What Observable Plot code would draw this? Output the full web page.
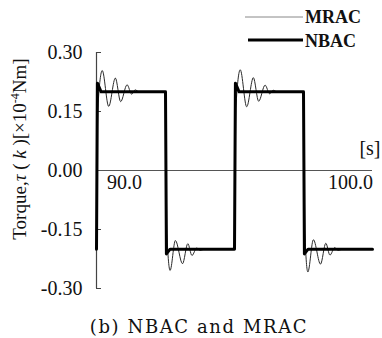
<!DOCTYPE html>
<html><head><meta charset="utf-8">
<script src="https://cdn.jsdelivr.net/npm/d3@7"></script>
<script src="https://cdn.jsdelivr.net/npm/@observablehq/plot@0.6"></script>
<style>
body{margin:0;background:#fff}
#chart{position:relative;width:382px;height:338px}
</style></head><body><div id="chart"></div>
<script>
const yTicks = [-0.30, -0.15, 0, 0.15, 0.30];
const yTickLabels = ["-0.30", "-0.15", "0.00", "0.15", "0.30"];
const xTicks = [90, 100];
const xTickLabels = ["90.0", "100.0"];
const xUnit = "[s]";
const series = ["MRAC", "NBAC"];
const caption = "(b) NBAC and MRAC";

// NBAC (thick line): time [s], torque
const nbacT = [89, 89.04, 89.2, 92, 92.04, 92.2, 95, 95.04, 95.2, 98, 98.04, 98.2, 101];
const nbacV = [-0.2, 0.222, 0.2, 0.2, -0.212, -0.2, -0.2, 0.222, 0.2, 0.2, -0.212, -0.2, -0.2];

// MRAC (thin line): time [s], torque
const mracT = [
  89, 89.06, 89.25, 89.53, 89.82, 90.05, 90.33, 90.53, 90.68, 90.85,
  92, 92.06, 92.2, 92.43, 92.74, 92.97, 93.15, 93.36, 93.5, 93.7,
  95, 95.06, 95.25, 95.53, 95.82, 96.05, 96.33, 96.53, 96.68, 96.85,
  98, 98.06, 98.19, 98.43, 98.74, 98.97, 99.15, 99.36, 99.5, 99.7, 101
];
const mracV = [
  -0.2, 0.16, 0.254, 0.163, 0.235, 0.175, 0.218, 0.194, 0.205, 0.2,
  0.2, -0.16, -0.254, -0.178, -0.237, -0.186, -0.216, -0.197, -0.203, -0.2,
  -0.2, 0.16, 0.256, 0.162, 0.236, 0.176, 0.217, 0.195, 0.204, 0.2,
  0.2, -0.16, -0.258, -0.176, -0.238, -0.185, -0.215, -0.196, -0.203, -0.2, -0.2
];

const nbac = nbacT.map((t, i) => ({t, v: nbacV[i]}));
const mrac = mracT.map((t, i) => ({t, v: mracV[i]}));

const SERIF = "'Liberation Serif', 'Times New Roman', Times, serif";

const plot = Plot.plot({
  width: 382,
  height: 338,
  marginLeft: 96,
  marginRight: 10,
  marginTop: 52,
  marginBottom: 50,
  style: {fontFamily: SERIF, fontSize: "20px", background: "#fff", color: "#111"},
  x: {domain: [89, 101], axis: null},
  y: {domain: [-0.3, 0.3], axis: null},
  marks: [
    Plot.ruleY([0], {stroke: "#555", strokeWidth: 1}),
    Plot.ruleX([89], {y1: -0.3, y2: 0.3, stroke: "#444", strokeWidth: 1.2}),
    Plot.axisY({anchor: "left", ticks: yTicks.filter(d => d !== 0), tickSize: 5, dx: 5, tickFormat: () => "", stroke: "#444", label: null}),
    Plot.axisY({anchor: "left", ticks: yTicks, tickSize: 0, tickPadding: 14,
      tickFormat: d => yTickLabels[yTicks.indexOf(d)], label: null, fontSize: 20, fill: "#111"}),
    Plot.line(mrac, {x: "t", y: "v", curve: "monotone-x", stroke: "#2a2a2a", strokeWidth: 1}),
    Plot.line(nbac, {x: "t", y: "v", stroke: "#000", strokeWidth: 3, strokeLinejoin: "round"}),
    Plot.text([xTicks[0]], {x: d => d, y: 0, text: () => xTickLabels[0], lineAnchor: "bottom", dy: 18, dx: 5, fontSize: 20, fill: "#111"}),
    Plot.text([xTicks[1]], {x: d => d, y: 0, text: () => xTickLabels[1], lineAnchor: "bottom", dy: 18, dx: 1, fontSize: 20, fill: "#111"}),
    Plot.text([xUnit], {x: 101, y: 0, text: d => d, textAnchor: "end", lineAnchor: "bottom", dy: -16, dx: 8, fontSize: 20, fill: "#111"})
  ]
});

const svg = d3.select(plot);
// y-axis title
const yl = svg.append("text")
  .attr("transform", "translate(26,149) rotate(-90)")
  .attr("text-anchor", "middle")
  .attr("font-family", SERIF).attr("font-size", 19).attr("fill", "#111");
yl.append("tspan").text("Torque,");
yl.append("tspan").attr("font-style", "italic").text("τ");
yl.append("tspan").text(" ( ");
yl.append("tspan").attr("font-style", "italic").text("k");
yl.append("tspan").text(" )[×10");
yl.append("tspan").attr("dy", -7).attr("font-size", 12).text("-4");
yl.append("tspan").attr("dy", 7).text("Nm]");

// legend
const lg = svg.append("g").attr("font-family", SERIF).attr("font-size", 18).attr("font-weight", "bold").attr("text-anchor", "start");
lg.append("line").attr("x1", 245).attr("x2", 303).attr("y1", 17).attr("y2", 17).attr("stroke", "#888").attr("stroke-width", 1);
lg.append("text").attr("x", 305).attr("y", 23).attr("fill", "#111").text(series[0]);
lg.append("line").attr("x1", 248).attr("x2", 303).attr("y1", 40).attr("y2", 40).attr("stroke", "#000").attr("stroke-width", 3);
lg.append("text").attr("x", 305).attr("y", 46.5).attr("fill", "#111").text(series[1]);

// caption
svg.append("text").attr("x", 199).attr("y", 333).attr("text-anchor", "middle")
  .attr("font-family", "'DejaVu Serif', serif").attr("font-size", 18).attr("letter-spacing", "1.6px")
  .attr("fill", "#111").text(caption);

document.getElementById("chart").appendChild(plot);
</script></body></html>
